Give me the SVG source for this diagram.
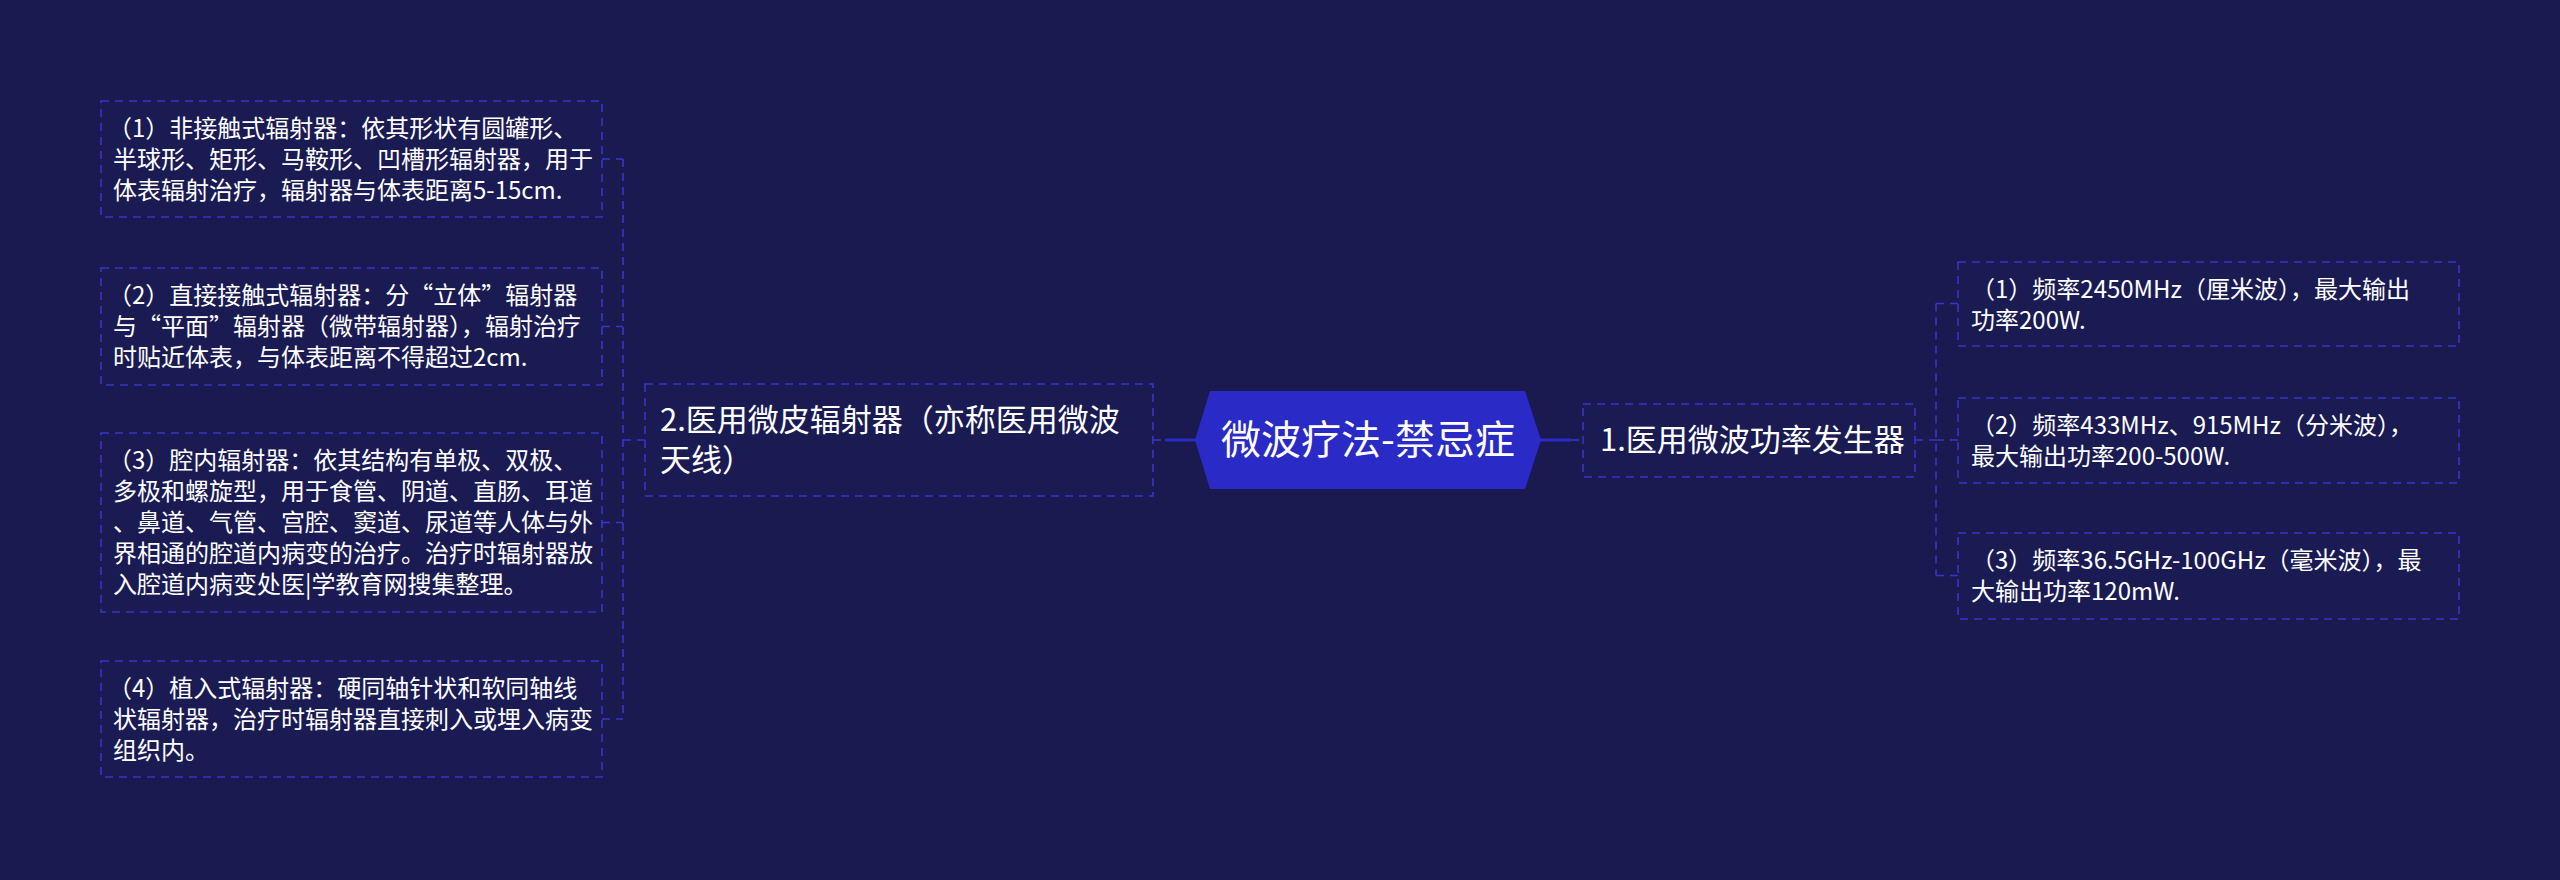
<svg xmlns="http://www.w3.org/2000/svg" width="2560" height="880" viewBox="0 0 2560 880">
<style>
.bg{fill:#1a1a50}
.box{fill:#1b1b54;stroke:#3636c8;stroke-width:1.6;stroke-dasharray:8 6}
.dl{fill:none;stroke:#3636c8;stroke-width:1.6;stroke-dasharray:8 6}
.sl{fill:none;stroke:#2b2bc8;stroke-width:3}
.t{font-family:"Noto Sans CJK SC","Noto Sans",sans-serif;fill:#ffffff}
.s24{font-size:24px}
.s31{font-size:31px}
.s40{font-size:40px}
</style>
<rect class="bg" x="0" y="0" width="2560" height="880"/>
<g id="connectors">
  <line class="sl" x1="1165" y1="440" x2="1196" y2="440"/>
  <line class="dl" x1="1153" y1="440" x2="1165" y2="440"/>
  <line class="sl" x1="1540" y1="440" x2="1571" y2="440"/>
  <line class="dl" x1="1571" y1="440" x2="1583" y2="440"/>
  <path class="dl" d="M645 440H623M623 159V719M602 159H623M602 326.5H623M602 522.5H623M602 719H623"/>
  <path class="dl" d="M1915 440H1936M1936 303.5V575.5M1936 303.5H1958M1936 440H1958M1936 575.5H1958"/>
</g>
<g id="root">
  <polygon points="1195,440 1210,391 1525,391 1541,440 1525,489 1210,489" fill="#2a2ac6"/>
  <text class="t s40" x="1368" y="454" text-anchor="middle">微波疗法-禁忌症</text>
</g>
<g id="n1">
  <rect class="box" x="1583" y="404" width="332" height="73"/>
  <text class="t s31" x="1600" y="451">1.医用微波功率发生器</text>
</g>
<g id="n1c1">
  <rect class="box" x="1958" y="262" width="501" height="84"/>
  <text class="t s24"><tspan x="1971" y="298">（1）频率2450MHz（厘米波），最大输出</tspan><tspan x="1971" y="329">功率200W.</tspan></text>
</g>
<g id="n1c2">
  <rect class="box" x="1958" y="398" width="501" height="85"/>
  <text class="t s24"><tspan x="1971" y="434">（2）频率433MHz、915MHz（分米波），</tspan><tspan x="1971" y="465">最大输出功率200-500W.</tspan></text>
</g>
<g id="n1c3">
  <rect class="box" x="1958" y="533" width="501" height="86"/>
  <text class="t s24"><tspan x="1971" y="569">（3）频率36.5GHz-100GHz（毫米波），最</tspan><tspan x="1971" y="600">大输出功率120mW.</tspan></text>
</g>
<g id="n2">
  <rect class="box" x="645" y="384" width="508" height="112"/>
  <text class="t s31"><tspan x="660" y="431">2.医用微皮辐射器（亦称医用微波</tspan><tspan x="660" y="471">天线）</tspan></text>
</g>
<g id="n2c1">
  <rect class="box" x="101" y="101" width="501" height="116"/>
  <text class="t s24"><tspan x="108" y="137">（1）非接触式辐射器：依其形状有圆罐形、</tspan><tspan x="113" y="168">半球形、矩形、马鞍形、凹槽形辐射器，用于</tspan><tspan x="113" y="199">体表辐射治疗，辐射器与体表距离5-15cm.</tspan></text>
</g>
<g id="n2c2">
  <rect class="box" x="101" y="268" width="501" height="117"/>
  <text class="t s24"><tspan x="108" y="304">（2）直接接触式辐射器：分“立体”辐射器</tspan><tspan x="113" y="335">与“平面”辐射器（微带辐射器），辐射治疗</tspan><tspan x="113" y="366">时贴近体表，与体表距离不得超过2cm.</tspan></text>
</g>
<g id="n2c3">
  <rect class="box" x="101" y="433" width="501" height="179"/>
  <text class="t s24"><tspan x="108" y="469">（3）腔内辐射器：依其结构有单极、双极、</tspan><tspan x="113" y="500">多极和螺旋型，用于食管、阴道、直肠、耳道</tspan><tspan x="113" y="531">、鼻道、气管、宫腔、窦道、尿道等人体与外</tspan><tspan x="113" y="562">界相通的腔道内病变的治疗。治疗时辐射器放</tspan><tspan x="113" y="593">入腔道内病变处医|学教育网搜集整理。</tspan></text>
</g>
<g id="n2c4">
  <rect class="box" x="101" y="661" width="501" height="116"/>
  <text class="t s24"><tspan x="108" y="697">（4）植入式辐射器：硬同轴针状和软同轴线</tspan><tspan x="113" y="728">状辐射器，治疗时辐射器直接刺入或埋入病变</tspan><tspan x="113" y="759">组织内。</tspan></text>
</g>
</svg>
